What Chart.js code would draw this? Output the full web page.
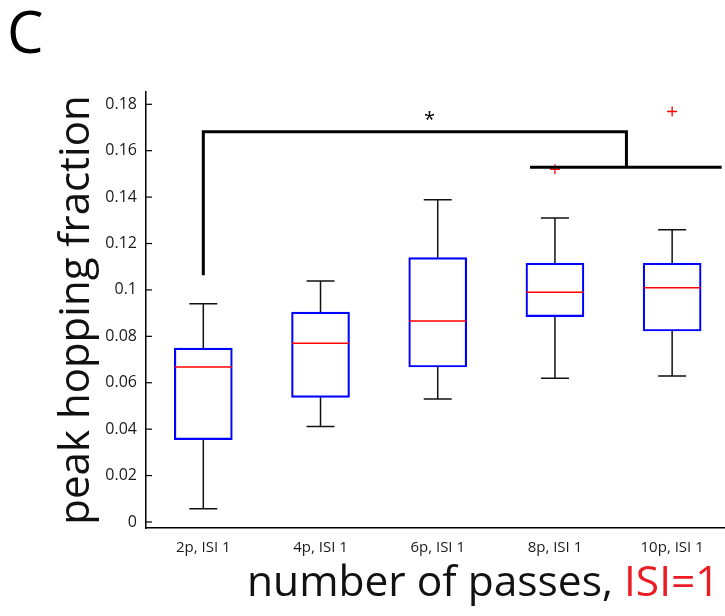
<!DOCTYPE html>
<html>
<head>
<meta charset="utf-8">
<script src="https://cdn.jsdelivr.net/npm/chart.js@4"></script>
<style>
  body { margin: 0; background: #fff; }
  #wrap { position: relative; width: 725px; height: 616px; overflow: hidden; font-family: 'Open Sans', sans-serif; }
  #panel { position: absolute; left: 7px; top: -9px; font-size: 58px; color: #000; }
  #xtitle { position: absolute; left: 247px; top: 551px; font-size: 42.5px; color: #111; white-space: nowrap; }
  #xtitle span { color: #ed1c24; }
</style>
</head>
<body>
<div id="wrap">
  <canvas id="myChart" width="725" height="616"></canvas>
  <div id="panel">C</div>
  <div id="xtitle">number of passes, <span>ISI=1</span></div>
</div>
<script>
Chart.defaults.font.family = 'Open Sans';
Chart.defaults.color = '#1a1a1a';

const categories = ['2p, ISI 1', '4p, ISI 1', '6p, ISI 1', '8p, ISI 1', '10p, ISI 1'];
const whiskerLow  = [0.0057, 0.0411, 0.0530, 0.0619, 0.0629];
const q1          = [0.0355, 0.0537, 0.0668, 0.0885, 0.0823];
const median      = [0.0668, 0.0770, 0.0866, 0.0990, 0.1009];
const q3          = [0.0749, 0.0904, 0.1139, 0.1115, 0.1115];
const whiskerHigh = [0.0940, 0.1039, 0.1389, 0.1310, 0.1259];
const outlierCat  = [4, 5];
const outlierVal  = [0.1520, 0.1769];
const yTicks = [0, 0.02, 0.04, 0.06, 0.08, 0.1, 0.12, 0.14, 0.16, 0.18];

// significance bracket, in data units (x = category number)
const sigLeftX = 1, sigLeftLow = 0.107, sigTopY = 0.1682;
const sigJoinX = 4.61, sigJoinY = 0.1529;
const sigGroupFrom = 3.80, sigGroupTo = 5.41;
const sigStar = { x: 2.93, y: 0.1745 };

const boxData = categories.map((c, i) => ({ x: i + 1, y: [q1[i], q3[i]] }));
const outlierData = outlierCat.map((c, i) => ({ x: c, y: outlierVal[i] }));

const boxExtras = {
  id: 'boxExtras',
  beforeDatasetsDraw(chart) {
    const { ctx, scales: { x, y } } = chart;
    ctx.save();
    ctx.strokeStyle = '#111';
    ctx.lineWidth = 1.5;
    const cap = 14;
    categories.forEach((c, i) => {
      const px = x.getPixelForValue(i + 1);
      ctx.beginPath();
      ctx.moveTo(px, y.getPixelForValue(whiskerHigh[i]));
      ctx.lineTo(px, y.getPixelForValue(q3[i]));
      ctx.moveTo(px, y.getPixelForValue(q1[i]));
      ctx.lineTo(px, y.getPixelForValue(whiskerLow[i]));
      ctx.moveTo(px - cap, y.getPixelForValue(whiskerHigh[i]));
      ctx.lineTo(px + cap, y.getPixelForValue(whiskerHigh[i]));
      ctx.moveTo(px - cap, y.getPixelForValue(whiskerLow[i]));
      ctx.lineTo(px + cap, y.getPixelForValue(whiskerLow[i]));
      ctx.stroke();
    });
    ctx.restore();
  },
  afterDatasetsDraw(chart) {
    const { ctx, chartArea, scales: { x, y } } = chart;
    ctx.save();
    // medians
    ctx.strokeStyle = '#ff0000';
    ctx.lineWidth = 1.5;
    const half = 28.5;
    categories.forEach((c, i) => {
      const px = x.getPixelForValue(i + 1);
      const py = y.getPixelForValue(median[i]);
      ctx.beginPath();
      ctx.moveTo(px - half, py);
      ctx.lineTo(px + half, py);
      ctx.stroke();
    });
    // inward y ticks
    ctx.strokeStyle = '#000';
    ctx.lineWidth = 1.2;
    yTicks.forEach(v => {
      const py = y.getPixelForValue(v);
      ctx.beginPath();
      ctx.moveTo(chartArea.left, py);
      ctx.lineTo(chartArea.left + 6, py);
      ctx.stroke();
    });
    // significance bracket
    ctx.lineWidth = 3;
    ctx.lineCap = 'square';
    ctx.beginPath();
    ctx.moveTo(x.getPixelForValue(sigLeftX), y.getPixelForValue(sigLeftLow));
    ctx.lineTo(x.getPixelForValue(sigLeftX), y.getPixelForValue(sigTopY));
    ctx.lineTo(x.getPixelForValue(sigJoinX), y.getPixelForValue(sigTopY));
    ctx.lineTo(x.getPixelForValue(sigJoinX), y.getPixelForValue(sigJoinY));
    ctx.moveTo(x.getPixelForValue(sigGroupFrom), y.getPixelForValue(sigJoinY));
    ctx.lineTo(x.getPixelForValue(sigGroupTo), y.getPixelForValue(sigJoinY));
    ctx.stroke();
    ctx.fillStyle = '#000';
    ctx.font = '20px "Open Sans"';
    ctx.textAlign = 'center';
    ctx.textBaseline = 'middle';
    ctx.fillText('*', x.getPixelForValue(sigStar.x), y.getPixelForValue(sigStar.y) + 3);
    ctx.restore();
  }
};

const ctx = document.getElementById('myChart');

new Chart(ctx, {
  type: 'bar',
  data: {
    datasets: [{
      type: 'bar',
      data: boxData,
      backgroundColor: 'rgba(0,0,0,0)',
      borderColor: '#0000ff',
      borderWidth: 1.5,
      borderSkipped: false,
      barThickness: 58,
      grouped: false
    }, {
      type: 'scatter',
      data: outlierData,
      pointStyle: 'cross',
      radius: 5,
      borderColor: '#ff0000',
      borderWidth: 1.3
    }]
  },
  options: {
    responsive: false,
    animation: false,
    layout: { autoPadding: false, padding: { top: 92, left: 0, right: 0, bottom: 0 } },
    plugins: {
      legend: { display: false },
      tooltip: { enabled: false }
    },
    scales: {
      x: {
        type: 'linear',
        offset: false,
        min: 0.511,
        max: 5.451,
        grid: { display: false, drawTicks: false, offset: false },
        border: { color: '#000', width: 1.5 },
        afterBuildTicks: s => { s.ticks = categories.map((c, i) => ({ value: i + 1 })); },
        afterFit: s => { s.height = 88; s.paddingLeft = 0; s.paddingRight = 0; },
        ticks: {
          padding: 11,
          maxRotation: 0,
          autoSkip: false,
          font: { size: 15 },
          callback: v => categories[v - 1]
        }
      },
      y: {
        min: -0.0026,
        max: 0.1853,
        grid: { display: false, drawTicks: false },
        border: { color: '#000', width: 1.5 },
        afterBuildTicks: s => { s.ticks = yTicks.map(v => ({ value: v })); },
        afterFit: s => { s.width = 146; },
        ticks: {
          padding: 9,
          font: { size: 16 },
          callback: v => v === 0 ? '0' : String(+v.toFixed(2))
        },
        title: {
          display: true,
          text: 'peak hopping fraction',
          color: '#111',
          font: { size: 42 },
          padding: { top: 52, bottom: 0 }
        }
      }
    }
  },
  plugins: [boxExtras]
});
</script>
</body>
</html>
